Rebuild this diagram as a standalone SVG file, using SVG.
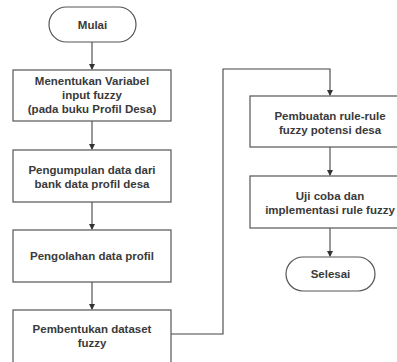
<svg xmlns="http://www.w3.org/2000/svg" width="397" height="362" viewBox="0 0 397 362">
<defs>
<style>
.box{fill:#fff;stroke:#555;stroke-width:1.2}
.t{font-family:"Liberation Sans",Arial,sans-serif;font-size:11.5px;font-weight:bold;fill:#3a3a3a;text-anchor:middle}
.c{fill:none;stroke:#444;stroke-width:1.1}
</style>
<marker id="ah" markerWidth="6" markerHeight="6" refX="5" refY="3" orient="auto" markerUnits="userSpaceOnUse">
<path d="M0,0 L6,3 L0,6 z" fill="#333"/>
</marker>
</defs>
<rect width="397" height="362" fill="#fff"/>
<g id="connectors">
<line class="c" x1="92" y1="42" x2="92" y2="69" marker-end="url(#ah)"/>
<line class="c" x1="92" y1="121" x2="92" y2="149" marker-end="url(#ah)"/>
<line class="c" x1="92" y1="202" x2="92" y2="229" marker-end="url(#ah)"/>
<line class="c" x1="92" y1="282" x2="92" y2="309" marker-end="url(#ah)"/>
<polyline class="c" points="171,334 223,334 223,69 330,69 330,95" marker-end="url(#ah)"/>
<line class="c" x1="330" y1="147" x2="330" y2="175" marker-end="url(#ah)"/>
<line class="c" x1="330" y1="228" x2="330" y2="256" marker-end="url(#ah)"/>
</g>
<g id="mulai">
<rect class="box" x="49" y="7" width="87" height="35" rx="17.5"/>
<text class="t" x="92.5" y="28.5">Mulai</text>
</g>
<g id="variabel">
<rect class="box" x="13" y="70" width="158" height="51"/>
<text class="t" x="92" y="85">Menentukan Variabel</text>
<text class="t" x="92" y="99">input fuzzy</text>
<text class="t" x="92" y="113">(pada buku Profil Desa)</text>
</g>
<g id="pengumpulan">
<rect class="box" x="13" y="150" width="158" height="52"/>
<text class="t" x="92" y="174">Pengumpulan data dari</text>
<text class="t" x="92" y="188">bank data profil desa</text>
</g>
<g id="pengolahan">
<rect class="box" x="13" y="230" width="158" height="52"/>
<text class="t" x="92" y="260">Pengolahan data profil</text>
</g>
<g id="dataset">
<rect class="box" x="13" y="310" width="158" height="60"/>
<text class="t" x="92" y="333">Pembentukan dataset</text>
<text class="t" x="92" y="347">fuzzy</text>
</g>
<g id="rule">
<rect class="box" x="250" y="96" width="160" height="51"/>
<text class="t" x="330" y="120">Pembuatan rule-rule</text>
<text class="t" x="330" y="134">fuzzy potensi desa</text>
</g>
<g id="uji">
<rect class="box" x="250" y="176" width="160" height="52"/>
<text class="t" x="330" y="200">Uji coba dan</text>
<text class="t" x="330" y="214">implementasi rule fuzzy</text>
</g>
<g id="selesai">
<rect class="box" x="286" y="257" width="89" height="34" rx="17"/>
<text class="t" x="330.5" y="278">Selesai</text>
</g>
</svg>
